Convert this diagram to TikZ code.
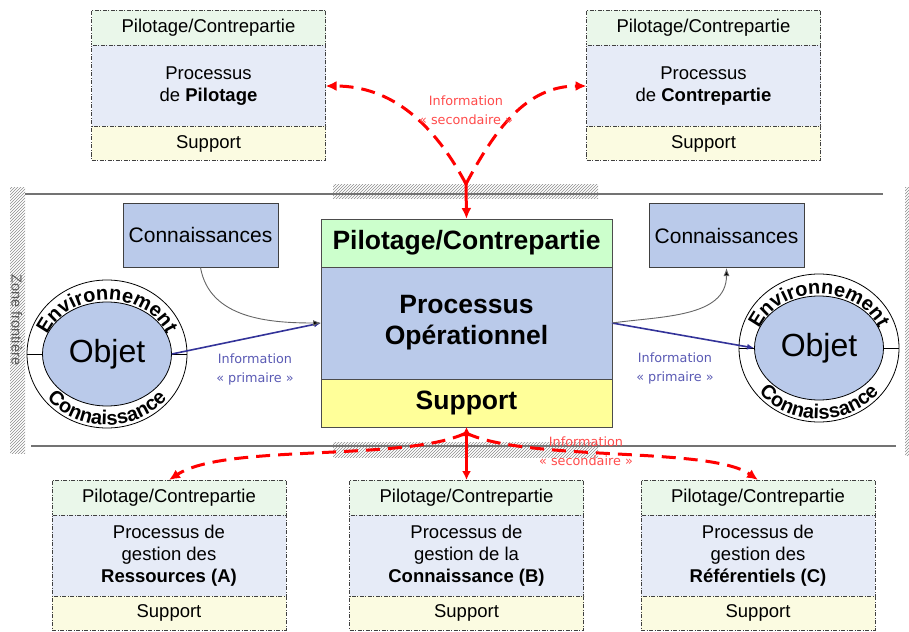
\documentclass[tikz,border=0pt]{standalone}
\usepackage{fontspec}
\setmainfont{Liberation Sans}
\newfontfamily\infofont{DejaVu Sans}
\usepackage{tikz}
\usetikzlibrary{shapes.geometric, arrows.meta, positioning, patterns, decorations.text}
\definecolor{procblue}{HTML}{BACAEA}
\definecolor{pilgreen}{HTML}{CCFFCC}
\definecolor{supyellow}{HTML}{FFFF99}
\definecolor{palegreen}{HTML}{EAF7EA}
\definecolor{paleblue}{HTML}{E6EBF7}
\definecolor{paleyellow}{HTML}{FBFBE1}
\definecolor{secred}{HTML}{FF0000}
\definecolor{labred}{HTML}{FF4B4B}
\definecolor{primblue}{HTML}{333399}
\definecolor{labblue}{HTML}{5A5AB4}
\newcommand{\fsz}[2]{\fontsize{#1}{#2}\selectfont}

\begin{document}
\begin{tikzpicture}[
  x=1pt, y=1pt,
  smallpil/.style={rectangle, draw=black!75, dash pattern=on 4pt off 1.5pt on 1pt off 1.5pt, fill=palegreen, minimum width=234pt, minimum height=35pt, inner sep=0pt, outer sep=0pt, font=\fsz{18.5}{22}},
  smallproc/.style={smallpil, fill=paleblue, minimum height=81pt, align=center},
  smallsup/.style={smallpil, fill=paleyellow, minimum height=34pt},
  mainpil/.style={rectangle, draw=black!70, line width=1pt, fill=pilgreen, minimum width=291pt, minimum height=48pt, inner sep=0pt, outer sep=0pt, font=\fsz{26.5}{31}\bfseries},
  mainproc/.style={mainpil, fill=procblue, minimum height=112pt, align=center},
  mainsup/.style={mainpil, fill=supyellow},
  knowbox/.style={rectangle, draw=black!75, line width=1pt, fill=procblue, minimum width=155pt, minimum height=64pt, font=\fsz{21}{24}},
  objet/.style={ellipse, draw=black, line width=0.8pt, fill=procblue, minimum width=129pt, minimum height=104pt, inner sep=0pt, font=\fsz{32}{36}},
  ring/.style={ellipse, draw=black, line width=0.8pt, fill=white, minimum width=160pt, minimum height=148pt, inner sep=0pt},
  secarrow/.style={secred, line width=3pt, dash pattern=on 14pt off 8pt, -{Latex[length=11pt,width=10pt]}},
  primarrow/.style={primblue, line width=1.6pt, -{Latex[length=7pt,width=6pt]}},
  knowarrow/.style={black!60, line width=0.9pt, -{Latex[length=8pt,width=6pt,fill=black]}},
  secinfo/.style={text=labred, font=\infofont\fsz{12.8}{19}, align=center},
  priminfo/.style={secinfo, text=labblue},
  hatch/.style={pattern=north east lines, pattern color=black!45},
  frontline/.style={draw=black!55, line width=1.3pt}
]
  \useasboundingbox (0,0) rectangle (909,-631);

  \fill[hatch] (10,-187) rectangle (25,-453);
  \fill[hatch] (905,-187) rectangle (909,-455);
  \fill[hatch] (333,-184) rectangle (598,-198);
  \fill[hatch] (333,-442) rectangle (598,-457);
  \draw[frontline] (25,-194) -- (883,-194);
  \draw[frontline] (31,-446) -- (896,-446);
  \node[rotate=-90, text=black!65, font=\fsz{14.5}{14}] (zone) at (17,-320) {Zone frontière};

  \node[smallpil] (piltop) at (208.5,-28) {Pilotage/Contrepartie};
  \node[smallproc, below=0pt of piltop] (pilproc) {Processus\\de \textbf{Pilotage}};
  \node[smallsup, below=0pt of pilproc] (pilsup) {Support};

  \node[smallpil] (contop) at (703.5,-28) {Pilotage/Contrepartie};
  \node[smallproc, below=0pt of contop] (conproc) {Processus\\de \textbf{Contrepartie}};
  \node[smallsup, below=0pt of conproc] (consup) {Support};

  \node[mainpil] (maintop) at (466.5,-243) {Pilotage/Contrepartie};
  \node[mainproc, below=0pt of maintop] (mainproc) {Processus\\Opérationnel};
  \node[mainsup, below=0pt of mainproc] (mainsup) {Support};

  \node[smallpil] (restop) at (169,-497.5) {Pilotage/Contrepartie};
  \node[smallproc, below=0pt of restop] (resproc) {Processus de\\gestion des\\\textbf{Ressources (A)}};
  \node[smallsup, below=0pt of resproc] (ressup) {Support};

  \node[smallpil] (cnntop) at (466.5,-497.5) {Pilotage/Contrepartie};
  \node[smallproc, below=0pt of cnntop] (cnnproc) {Processus de\\gestion de la\\\textbf{Connaissance (B)}};
  \node[smallsup, below=0pt of cnnproc] (cnnsup) {Support};

  \node[smallpil] (reftop) at (758,-497.5) {Pilotage/Contrepartie};
  \node[smallproc, below=0pt of reftop] (refproc) {Processus de\\gestion des\\\textbf{Référentiels (C)}};
  \node[smallsup, below=0pt of refproc] (refsup) {Support};

  \node[knowbox] (knowl) at (200.5,-235) {Connaissances};
  \node[knowbox] (knowr) at (726.5,-235.5) {Connaissances};

  \node[ring] (envl) at (107,-354) {};
  \node[objet] (objl) at (107,-354) {Objet};
  \draw[line width=0.8pt] (envl.west) -- (objl.west) (objl.east) -- (envl.east);
  \path[decorate, decoration={text along path, text align=center, text={|\fsz{20}{20}\bfseries|Environnement}}]
    ([shift={(167:64 and 54)}]objl.center) arc[start angle=167, end angle=13, x radius=64, y radius=54];
  \path[decorate, decoration={text along path, text align=center, text={|\fsz{20}{20}\bfseries|Connaissance}}]
    ([shift={(196:77 and 71)}]objl.center) arc[start angle=196, end angle=344, x radius=77, y radius=71];

  \node[ring] (envr) at (819,-348) {};
  \node[objet] (objr) at (819,-348) {Objet};
  \draw[line width=0.8pt] (envr.west) -- (objr.west) (objr.east) -- (envr.east);
  \path[decorate, decoration={text along path, text align=center, text={|\fsz{20}{20}\bfseries|Environnement}}]
    ([shift={(167:64 and 54)}]objr.center) arc[start angle=167, end angle=13, x radius=64, y radius=54];
  \path[decorate, decoration={text along path, text align=center, text={|\fsz{20}{20}\bfseries|Connaissance}}]
    ([shift={(196:77 and 71)}]objr.center) arc[start angle=196, end angle=344, x radius=77, y radius=71];

  \draw[primarrow] (objl.east) -- (mainproc.west);
  \draw[primarrow] (mainproc.east) -- (objr.west);
  \draw[knowarrow] (knowl.south) to[out=-80, in=180] (mainproc.west);
  \draw[knowarrow] (mainproc.east) to[out=8, in=-90] (knowr.south);
  \node[priminfo] (priml) at (255,-369) {Information\\« primaire »};
  \node[priminfo] (primr) at (675,-368) {Information\\« primaire »};

  \coordinate (jt) at (466,-184);
  \draw[secarrow, solid] (jt) -- (maintop.north);
  \draw[secarrow] (jt) to[out=118, in=0] (pilproc.east);
  \draw[secarrow] (jt) to[out=62, in=180] (conproc.west);
  \node[secinfo] (sect) at (466,-110) {Information\\« secondaire »};

  \coordinate (jb) at (466,-433);
  \draw[secarrow, solid, line width=2.2pt, {Latex[length=9pt,width=10pt]}-{Latex[length=9pt,width=9pt]}] (mainsup.south) -- (cnntop.north);
  \draw[secarrow] (jb) .. controls (405,-462) and (225,-443) .. (restop.north);
  \draw[secarrow] (jb) .. controls (527,-462) and (710,-446) .. (reftop.north);
  \node[secinfo] (secb) at (586,-451) {Information\\« secondaire »};
\end{tikzpicture}
\end{document}
